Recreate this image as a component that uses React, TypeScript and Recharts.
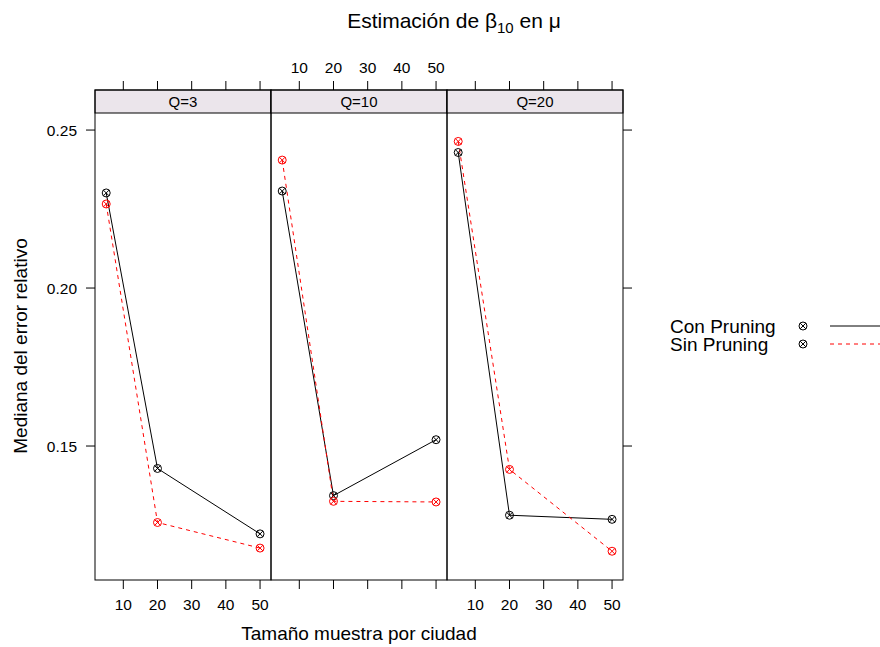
import React from "react";
import { LineChart, Line, XAxis, YAxis } from "recharts";

// panels (lattice conditioning) and x values
const panelNames = ["Q=3", "Q=10", "Q=20"];
const sampleSizes = [5, 20, 50];

// median relative error, one array per panel
const conPruningQ3 = [0.2301, 0.1429, 0.1222];
const conPruningQ10 = [0.2307, 0.1343, 0.152];
const conPruningQ20 = [0.2429, 0.1281, 0.1268];
const sinPruningQ3 = [0.2266, 0.1258, 0.1177];
const sinPruningQ10 = [0.2405, 0.1325, 0.1323];
const sinPruningQ20 = [0.2464, 0.1426, 0.1167];

const xTicks = [10, 20, 30, 40, 50];
const yTicks = [0.15, 0.2, 0.25];

const conByPanel = [conPruningQ3, conPruningQ10, conPruningQ20];
const sinByPanel = [sinPruningQ3, sinPruningQ10, sinPruningQ20];

const FONT = "'Liberation Sans', Arial, Helvetica, sans-serif";
const W = 880;
const H = 647;
const STRIP_TOP = 90;
const PLOT_TOP = 113;
const PLOT_BOTTOM = 580;
const PANEL_W = 176;
const panelLefts = [95, 271, 447];
const AX = 20; // space given to each axis inside the chart

const Marker = ({ cx, cy, color }: any) => {
  if (cx == null || cy == null) return <g />;
  const r = 4;
  const d = r * 0.72;
  return (
    <g>
      <circle cx={cx} cy={cy} r={r} fill="none" stroke={color} strokeWidth={1} />
      <line x1={cx - d} y1={cy - d} x2={cx + d} y2={cy + d} stroke={color} strokeWidth={1} />
      <line x1={cx - d} y1={cy + d} x2={cx + d} y2={cy - d} stroke={color} strokeWidth={1} />
    </g>
  );
};

function Panel({ idx }: { idx: number }) {
  const left = panelLefts[idx];
  const data = sampleSizes.map((s, j) => ({
    size: s,
    con: conByPanel[idx][j],
    sin: sinByPanel[idx][j],
  }));
  const bottomLabels = idx !== 1;
  const topLabels = idx === 1;

  const bottomTick = (p: any) => (
    <g key={`b${p.index}`}>
      <line x1={p.x} x2={p.x} y1={PLOT_BOTTOM} y2={PLOT_BOTTOM + 9} stroke="#000" />
      {bottomLabels && (
        <text x={p.x} y={610} textAnchor="middle" fontSize={15.5} fontFamily={FONT} fill="#000">
          {p.payload.value}
        </text>
      )}
    </g>
  );
  const topTick = (p: any) => (
    <g key={`t${p.index}`}>
      <line x1={p.x} x2={p.x} y1={STRIP_TOP - 9} y2={STRIP_TOP} stroke="#000" />
      {topLabels && (
        <text x={p.x} y={72.5} textAnchor="middle" fontSize={15.5} fontFamily={FONT} fill="#000">
          {p.payload.value}
        </text>
      )}
    </g>
  );
  const leftTick = (p: any) =>
    idx === 0 ? (
      <g key={`l${p.index}`}>
        <line x1={left - 9} x2={left} y1={p.y} y2={p.y} stroke="#000" />
        <text x={77} y={p.y + 6} textAnchor="end" fontSize={15.5} fontFamily={FONT} fill="#000">
          {p.payload.value.toFixed(2)}
        </text>
      </g>
    ) : (
      <g key={`l${p.index}`} />
    );
  const rightTick = (p: any) =>
    idx === 2 ? (
      <g key={`r${p.index}`}>
        <line x1={left + PANEL_W} x2={left + PANEL_W + 9} y1={p.y} y2={p.y} stroke="#000" />
      </g>
    ) : (
      <g key={`r${p.index}`} />
    );

  return (
    <div style={{ position: "absolute", left: 0, top: 0 }}>
      <LineChart
        width={W}
        height={H}
        data={data}
        margin={{
          top: PLOT_TOP - AX,
          bottom: H - PLOT_BOTTOM - AX,
          left: left - AX,
          right: W - (left + PANEL_W) - AX,
        }}
      >
        <XAxis
          xAxisId="b"
          dataKey="size"
          type="number"
          domain={[1.72, 53.2]}
          allowDataOverflow
          ticks={xTicks}
          interval={0}
          height={AX}
          axisLine={false}
          tickLine={false}
          tick={bottomTick}
        />
        <XAxis
          xAxisId="t"
          orientation="top"
          dataKey="size"
          type="number"
          domain={[1.72, 53.2]}
          allowDataOverflow
          ticks={xTicks}
          interval={0}
          height={AX}
          axisLine={false}
          tickLine={false}
          tick={topTick}
        />
        <YAxis
          yAxisId="l"
          type="number"
          domain={[0.1076, 0.2554]}
          allowDataOverflow
          ticks={yTicks}
          interval={0}
          width={AX}
          axisLine={false}
          tickLine={false}
          tick={leftTick}
        />
        <YAxis
          yAxisId="r"
          orientation="right"
          type="number"
          domain={[0.1076, 0.2554]}
          allowDataOverflow
          ticks={yTicks}
          interval={0}
          width={AX}
          axisLine={false}
          tickLine={false}
          tick={rightTick}
        />
        <Line
          xAxisId="b"
          yAxisId="l"
          type="linear"
          dataKey="con"
          stroke="#000"
          strokeWidth={1}
          dot={(p: any) => <Marker key={`c${p.index}`} cx={p.cx} cy={p.cy} color="#000" />}
          isAnimationActive={false}
        />
        <Line
          xAxisId="b"
          yAxisId="l"
          type="linear"
          dataKey="sin"
          stroke="#FF0000"
          strokeWidth={1}
          strokeDasharray="4 4"
          dot={(p: any) => <Marker key={`s${p.index}`} cx={p.cx} cy={p.cy} color="#FF0000" />}
          isAnimationActive={false}
        />
      </LineChart>
    </div>
  );
}

export default function App() {
  return (
    <div style={{ position: "absolute", left: 0, top: 0, width: W, height: H, background: "#fff" }}>
      {panelNames.map((_, i) => (
        <Panel key={i} idx={i} />
      ))}
      <svg width={W} height={H} style={{ position: "absolute", left: 0, top: 0 }} fontFamily={FONT}>
        {panelNames.map((name, i) => (
          <g key={name}>
            <rect x={panelLefts[i]} y={STRIP_TOP} width={PANEL_W} height={PLOT_TOP - STRIP_TOP} fill="#EBE5EB" stroke="#000" strokeWidth={1} />
            <rect x={panelLefts[i]} y={STRIP_TOP} width={PANEL_W} height={PLOT_BOTTOM - STRIP_TOP} fill="none" stroke="#000" strokeWidth={1} />
            <text x={panelLefts[i] + PANEL_W / 2} y={107} textAnchor="middle" fontSize={15} fill="#000">
              {name}
            </text>
          </g>
        ))}
        <text x={454} y={28} textAnchor="middle" fontSize={21} fill="#000">
          Estimación de β
          <tspan fontSize={15} dy={5}>10</tspan>
          <tspan dy={-5}> en μ</tspan>
        </text>
        <text x={359} y={640} textAnchor="middle" fontSize={19} fill="#000">
          Tamaño muestra por ciudad
        </text>
        <text x={27} y={346} textAnchor="middle" fontSize={19} fill="#000" transform="rotate(-90 27 346)">
          Mediana del error relativo
        </text>
        <text x={670} y={333} fontSize={19} fill="#000">Con Pruning</text>
        <text x={670} y={351} fontSize={19} fill="#000">Sin Pruning</text>
        <Marker cx={803} cy={326} color="#000" />
        <Marker cx={803} cy={344} color="#000" />
        <line x1={830} x2={890} y1={326} y2={326} stroke="#000" strokeWidth={1} />
        <line x1={830} x2={890} y1={344} y2={344} stroke="#FF0000" strokeWidth={1} strokeDasharray="4 4" />
      </svg>
    </div>
  );
}
